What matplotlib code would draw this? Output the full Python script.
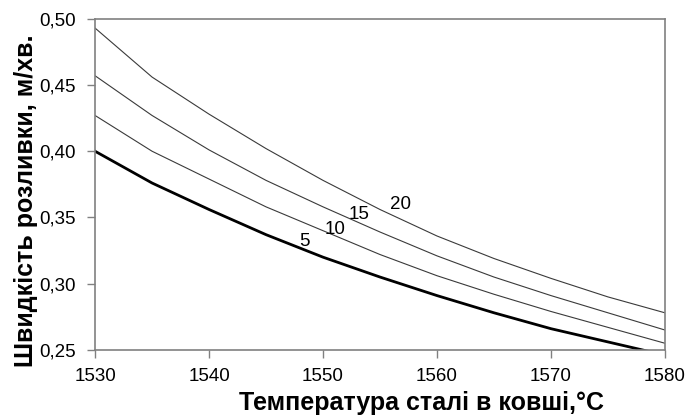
import numpy as np
import matplotlib
matplotlib.use("Agg")
from matplotlib import pyplot as plt
from matplotlib.ticker import FuncFormatter

# temperature of steel in ladle, deg C
temp = [1530, 1535, 1540, 1545, 1550, 1555, 1560, 1565, 1570, 1575, 1580]
# casting speed, m/min, one curve per parameter value
v5 = [0.400, 0.376, 0.356, 0.337, 0.320, 0.305, 0.291, 0.278, 0.266, 0.256, 0.246]
v10 = [0.427, 0.400, 0.379, 0.358, 0.340, 0.322, 0.306, 0.292, 0.279, 0.267, 0.255]
v15 = [0.457, 0.427, 0.401, 0.378, 0.358, 0.339, 0.321, 0.305, 0.291, 0.278, 0.265]
v20 = [0.493, 0.456, 0.428, 0.402, 0.378, 0.356, 0.336, 0.319, 0.304, 0.290, 0.278]
curve_names = ["5", "10", "15", "20"]
label_pos = [(1548.4, 0.332), (1551.1, 0.341), (1553.2, 0.352), (1556.8, 0.360)]

plt.rcParams['font.family'] = ['Liberation Sans', 'DejaVu Sans']

fig = plt.figure(figsize=(6.89, 4.18), dpi=100)
ax = fig.add_axes([0.138, 0.163, 0.827, 0.792])

ax.plot(temp, v5, color='black', lw=2.0)
ax.plot(temp, v10, color='#3a3a3a', lw=0.8)
ax.plot(temp, v15, color='#3a3a3a', lw=0.8)
ax.plot(temp, v20, color='#3a3a3a', lw=0.8)

for name, (x, y) in zip(curve_names, label_pos):
    ax.text(x, y, name, fontsize=13.5, ha='center', va='center')

ax.set_xlim(1530, 1580)
ax.set_ylim(0.25, 0.50)
ax.set_xticks(np.arange(1530, 1581, 10))
ax.set_yticks(np.arange(0.25, 0.501, 0.05))
ax.yaxis.set_major_formatter(FuncFormatter(lambda v, p: f"{v:.2f}".replace('.', ',')))
ax.tick_params(direction='out', length=6, width=1, color='#808080', labelsize=13.5)
ax.tick_params(axis='x', pad=7)
ax.tick_params(axis='y', pad=8)
for s in ax.spines.values():
    s.set_color('#808080')
    s.set_linewidth(1.2)

ax.set_xlabel("Температура сталі в ковші,°С", fontsize=18, fontweight='bold')
ax.set_ylabel("Швидкість розливки, м/хв.", fontsize=18, fontweight='bold')
ax.xaxis.set_label_coords(0.572, -0.125)
ax.yaxis.set_label_coords(-0.10, 0.45)

fig.savefig("out.png", dpi=100)
